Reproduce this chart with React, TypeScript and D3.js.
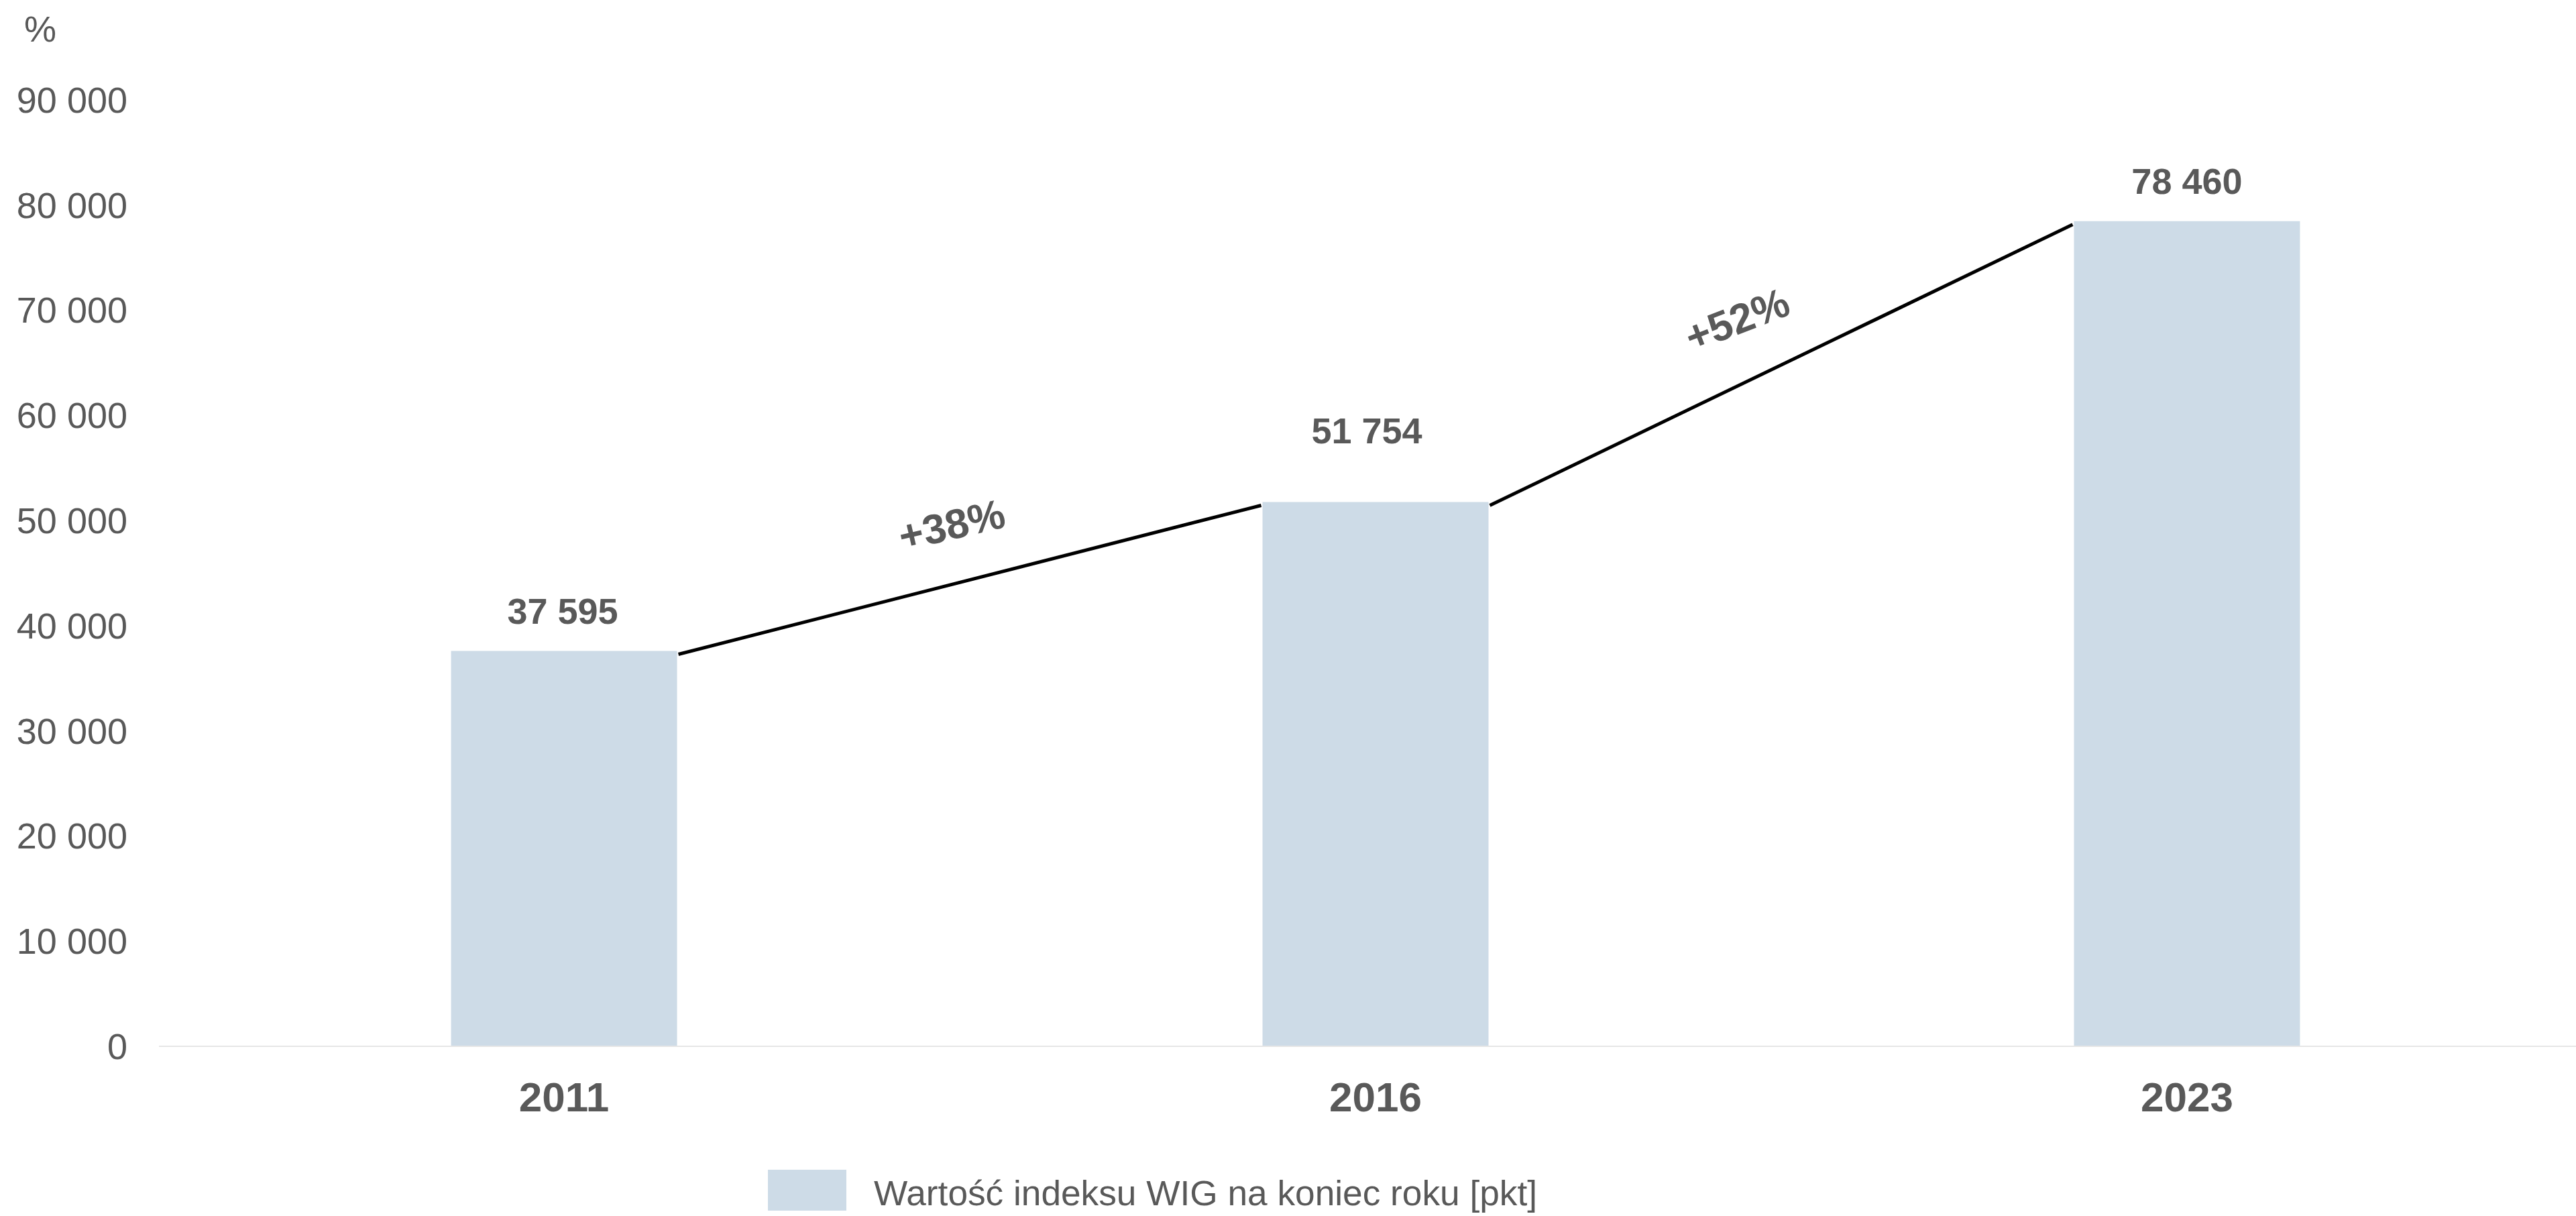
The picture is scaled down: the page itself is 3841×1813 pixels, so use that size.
import * as d3 from 'd3';

const years = ['2011', '2016', '2023'];
const values = [37595, 51754, 78460];
const yTicks = [0, 10000, 20000, 30000, 40000, 50000, 60000, 70000, 80000, 90000];
const growthLabels = ['+38%', '+52%'];
const legendLabel = 'Wartość indeksu WIG na koniec roku [pkt]';
const unitLabel = '%';

const WIDTH = 3841;
const HEIGHT = 1813;
const FONT = '"Liberation Sans", Arial, sans-serif';
const TEXT = '#595959';
const BAR = '#cddbe7';

// hand placed offsets for the value labels (px above bar top, x shift)
const labelLift = [41, 87, 41];
const labelShift = [-2, -13, 0];
// growth annotations: position and rotation
const growthPos = [
  { x: 1419, y: 782, angle: -13 },
  { x: 2590, y: 476, angle: -21 },
];

const fmt = (v: number) => d3.format(',')(v).replace(/,/g, ' ');

export default function App() {
  const x = d3.scaleBand<string>().domain(years).range([237, 3865]).paddingInner(0.7215).paddingOuter(0.36);
  const y = d3.scaleLinear().domain([0, 90000]).range([1560, 148.8]);
  const bw = x.bandwidth();

  return (
    <svg
      width={WIDTH}
      height={HEIGHT}
      style={{ position: 'absolute', left: 0, top: 0, background: '#fff' }}
      fontFamily={FONT}
    >
      {/* unit */}
      <text x={36} y={62} fontSize={54} fill={TEXT}>{unitLabel}</text>

      {/* y ticks */}
      {yTicks.map(t => (
        <text key={t} x={190} y={y(t) + 19} fontSize={54} fill={TEXT} textAnchor="end">
          {fmt(t)}
        </text>
      ))}

      {/* bars */}
      {years.map((yr, i) => (
        <rect key={yr} x={x(yr)} y={y(values[i])} width={bw} height={y(0) - y(values[i])} fill={BAR} />
      ))}

      {/* baseline */}
      <line x1={237} x2={3865} y1={y(0)} y2={y(0)} stroke="#e6e6e6" strokeWidth={2} />

      {/* connectors */}
      {values.slice(1).map((v, i) => (
        <line
          key={i}
          x1={(x(years[i]) as number) + bw + 2}
          y1={y(values[i]) + 5}
          x2={(x(years[i + 1]) as number) - 2}
          y2={y(v) + 5}
          stroke="#000"
          strokeWidth={5}
        />
      ))}

      {/* growth labels */}
      {growthLabels.map((g, i) => (
        <text
          key={g}
          transform={`translate(${growthPos[i].x},${growthPos[i].y}) rotate(${growthPos[i].angle})`}
          textAnchor="middle"
          dy={22}
          fontSize={62}
          fontWeight="bold"
          fill={TEXT}
        >
          {g}
        </text>
      ))}

      {/* value labels */}
      {years.map((yr, i) => (
        <text
          key={yr}
          x={(x(yr) as number) + bw / 2 + labelShift[i]}
          y={y(values[i]) - labelLift[i]}
          textAnchor="middle"
          fontSize={54}
          fontWeight="bold"
          fill={TEXT}
        >
          {fmt(values[i])}
        </text>
      ))}

      {/* x labels */}
      {years.map(yr => (
        <text
          key={yr}
          x={(x(yr) as number) + bw / 2}
          y={1657}
          textAnchor="middle"
          fontSize={62}
          fontWeight="bold"
          fill={TEXT}
        >
          {yr}
        </text>
      ))}

      {/* legend */}
      <rect x={1145} y={1744} width={117} height={61} fill={BAR} />
      <text x={1303} y={1797} fontSize={51} fill={TEXT} textLength={989} lengthAdjust="spacingAndGlyphs">
        {legendLabel}
      </text>
    </svg>
  );
}
